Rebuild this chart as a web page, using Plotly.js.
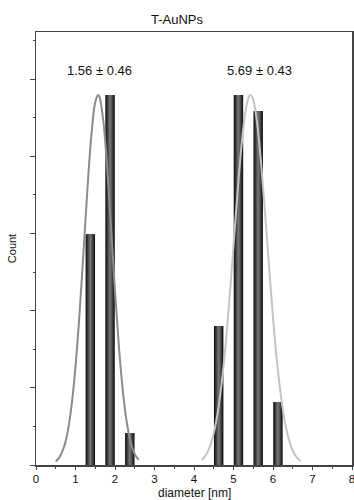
<!DOCTYPE html>
<html>
<head>
<meta charset="utf-8">
<script src="https://cdn.plot.ly/plotly-3.0.1.min.js"></script>
<style>html,body{margin:0;padding:0;background:#fff;}#chart{width:354px;height:500px;}</style>
</head>
<body>
<div id="chart"></div>
<script>
// Histogram bins (diameter, nm) and counts
const binsSmall = [1.375, 1.875, 2.375];
const countsSmall = [5.98, 9.59, 0.83];
const binsLarge = [4.625, 5.125, 5.625, 6.125];
const countsLarge = [3.6, 9.59, 9.17, 1.63];

// Fitted curves, points
const fitSmallX = [0.5,0.6,0.7,0.8,0.9,1.0,1.1,1.2,1.3,1.4,1.5,1.57,1.6,1.7,1.8,1.9,2.0,2.1,2.2,2.3,2.4,2.5,2.6];
const fitSmallY = [0.09,0.21,0.44,0.85,1.54,2.55,3.89,5.48,7.12,8.52,9.40,9.59,9.56,8.95,7.73,6.15,4.51,3.05,1.90,1.09,0.58,0.28,0.13];
const fitLargeX = [4.2,4.3,4.4,4.5,4.6,4.7,4.8,4.9,5.0,5.1,5.2,5.3,5.4,5.43,5.5,5.6,5.7,5.8,5.9,6.0,6.1,6.2,6.3,6.4,6.5,6.6,6.7];
const fitLargeY = [0.13,0.26,0.47,0.83,1.36,2.12,3.11,4.33,5.68,7.04,8.25,9.14,9.57,9.59,9.46,8.84,7.80,6.51,5.13,3.82,2.69,1.79,1.12,0.67,0.37,0.20,0.10];

const labels = ["1.56 ± 0.46", "5.69 ± 0.43"];
const labelX = [1.62, 5.65];
const labelY = [10.23, 10.23];
const xTitle = 'diameter [nm]';

const binsAll = binsSmall.concat(binsLarge);
const countsAll = countsSmall.concat(countsLarge);

const layers = [
  {w: 0.24, c: '#151515'},
  {w: 0.19, c: '#2c2c2c'},
  {w: 0.14, c: '#444444'},
  {w: 0.09, c: '#5c5c5c'},
  {w: 0.04, c: '#727272'}
];
const traces = layers.map(L => ({
  type: 'bar', x: binsAll, y: countsAll, width: L.w,
  marker: {color: L.c, line: {width: 0}}, hoverinfo: 'skip', showlegend: false
}));
traces.push({type: 'scatter', mode: 'lines', x: fitSmallX, y: fitSmallY,
  line: {color: '#8c8c8c', width: 2, shape: 'spline'}, showlegend: false});
traces.push({type: 'scatter', mode: 'lines', x: fitLargeX, y: fitLargeY,
  line: {color: '#c4c4c4', width: 2, shape: 'spline'}, showlegend: false});

const font = {family: 'Liberation Sans, Arial, sans-serif', color: '#111'};
const annots = labels.map((t, i) => ({x: labelX[i], y: labelY[i], xref: 'x', yref: 'y', text: t,
  showarrow: false, font: Object.assign({size: 13}, font)}));
annots.push({x: 0.5, y: -0.065, xref: 'paper', yref: 'paper', text: xTitle, showarrow: false,
  xanchor: 'center', yanchor: 'middle', font: Object.assign({size: 12}, font)});

const layout = {
  width: 354, height: 500,
  margin: {l: 36, r: 2, t: 32, b: 35},
  paper_bgcolor: '#fff', plot_bgcolor: '#fff',
  barmode: 'overlay',
  showlegend: false,
  font: Object.assign({size: 12}, font),
  title: {text: 'T-AuNPs', x: 0.5, xanchor: 'center', y: 0.962, yanchor: 'middle',
    font: Object.assign({size: 13}, font)},
  xaxis: {range: [0, 8], dtick: 1, tick0: 0, ticks: 'outside', ticklen: 3, tickcolor: '#444',
    showline: true, mirror: true, linecolor: '#444', linewidth: 1.5, showgrid: false, zeroline: false,
    minor: {dtick: 0.5, ticks: 'outside', ticklen: 2, tickcolor: '#444'},
    ticklabeloverflow: 'allow', ticklabelstandoff: 0,
    tickfont: Object.assign({size: 11.5}, font)},
  yaxis: {range: [0, 11.22], dtick: 2, tick0: 0, ticks: 'outside', ticklen: 5, tickcolor: '#444',
    showticklabels: false,
    showline: true, mirror: true, linecolor: '#444', linewidth: 1.5, showgrid: false, zeroline: false,
    minor: {dtick: 1, ticks: 'outside', ticklen: 2, tickcolor: '#444'},
    title: {text: 'Count', standoff: 10, font: Object.assign({size: 11}, font)}},
  annotations: annots
};
Plotly.newPlot('chart', traces, layout, {displayModeBar: false, staticPlot: true});
</script>
</body>
</html>
